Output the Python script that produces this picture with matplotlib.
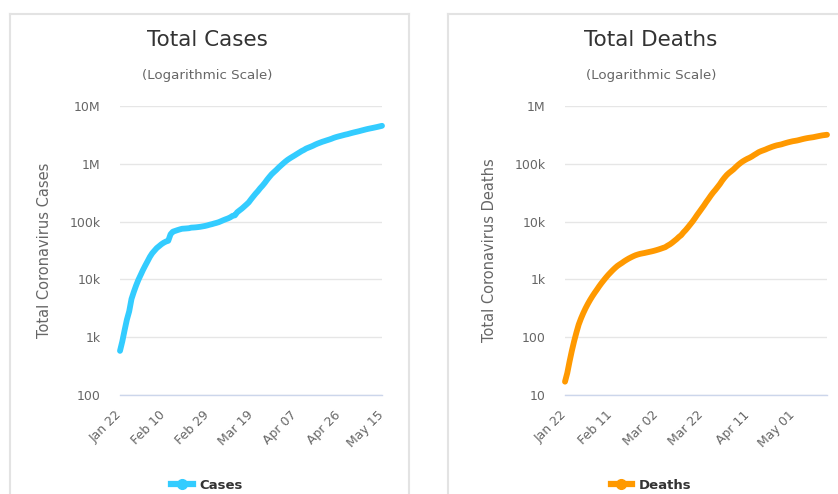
import matplotlib
matplotlib.use("Agg")
import matplotlib.pyplot as plt
from matplotlib.lines import Line2D
from matplotlib.ticker import FixedLocator, NullLocator

# total cases, daily from Jan 22 to May 15
cases = [
    580, 845, 1320, 2015, 2800, 4580, 6060, 7820, 9830, 11950,
    14550, 17390, 20630, 24550, 28280, 31440, 34880, 37550, 40550, 43100,
    45170, 46550, 60370, 66890, 69030, 71230, 73280, 75150, 75650, 76200,
    76840, 78600, 78990, 79580, 80410, 81390, 82750, 84120, 86010,
    88370, 90310, 92840, 95120, 97890, 101800, 105850, 109820, 113590, 118620,
    125880, 128350, 145210, 156100, 167450, 181570, 197100, 214820, 242570, 272210,
    304510, 336950, 378240, 418050, 467650, 529590, 593290, 660710, 720120, 782370,
    857490,
    932610, 1013160, 1095920, 1176060, 1249750, 1321480, 1396480, 1479800, 1565280, 1657530,
    1735650, 1834720, 1904840, 1976190, 2056050, 2152440, 2240190, 2317760, 2401380, 2472260,
    2549120, 2624000, 2708890, 2811190, 2896750, 2971480, 3041760, 3116400, 3193890, 3256850,
    3343780, 3427340, 3506730, 3583060, 3662690, 3755340, 3845720, 3938060, 4024010, 4101700,
    4177500, 4261750, 4347020, 4442160, 4542350,
]

# total deaths, daily from Jan 22 to May 16
deaths = [
    17, 24, 38, 58, 85, 120, 165, 210, 260, 315,
    375, 440, 510, 585, 665, 760, 860, 965, 1080, 1200,
    1320, 1450, 1580, 1710, 1820, 1930, 2060, 2180, 2300, 2410,
    2520, 2620, 2700, 2770, 2820, 2870, 2930, 2990, 3050, 3120,
    3200, 3290, 3390, 3500, 3610, 3830, 4030, 4300, 4630, 4980,
    5430, 5830, 6520, 7170, 7990, 8950, 10030, 11390, 13030, 14760,
    16760, 19010, 21800, 24730, 28200, 31810, 35360, 39700, 44660, 51180,
    57560, 63960, 69550, 74690, 80440, 87910, 95660, 102960, 109930, 116050,
    121940, 127170, 133680, 141930, 149810, 158720, 165250, 170860, 176680, 183930,
    190590, 197270, 203350, 208800, 212790, 217000, 223420, 229540, 235350, 240650,
    245770, 249480, 253710, 259470, 265720, 271580, 276740, 281280, 284930, 288660,
    294310, 299880, 305320, 310610, 314330, 318000,
]

cases_ticks = [0, 19, 38, 57, 76, 95, 114]
cases_tick_labels = ["Jan 22", "Feb 10", "Feb 29", "Mar 19", "Apr 07", "Apr 26", "May 15"]
deaths_ticks = [0, 20, 40, 60, 80, 100]
deaths_tick_labels = ["Jan 22", "Feb 11", "Mar 02", "Mar 22", "Apr 11", "May 01"]

cases_y = [1e2, 1e3, 1e4, 1e5, 1e6, 1e7]
cases_y_labels = ["100", "1k", "10k", "100k", "1M", "10M"]
deaths_y = [1e1, 1e2, 1e3, 1e4, 1e5, 1e6]
deaths_y_labels = ["10", "100", "1k", "10k", "100k", "1M"]

W, H = 838, 494
fig = plt.figure(figsize=(W / 100, H / 100), dpi=100)
plt.rcParams['font.family'] = ['DejaVu Sans']


def px(x, y):
    return x / W, 1 - y / H


def panel(left, center, label_x, title, values, color, ticks, tick_labels, yt, ytl,
          ylabel, name):
    ax = fig.add_axes([left / W, 1 - 395 / H, 262 / W, 289 / H])
    x = list(range(len(values)))
    ax.plot(x, values, color=color, lw=4.2, solid_capstyle='round',
            solid_joinstyle='round', clip_on=False, zorder=3)
    ax.set_yscale('log')
    ax.set_ylim(yt[0], yt[-1])
    ax.set_xlim(0, len(values) - 1)
    ax.yaxis.set_major_locator(FixedLocator(yt))
    ax.yaxis.set_minor_locator(NullLocator())
    ax.set_yticklabels(ytl)
    ax.set_xticks(ticks)
    ax.set_xticklabels(tick_labels, rotation=45, ha='right', va='center',
                       rotation_mode='anchor')
    ax.tick_params(length=0, labelsize=9, labelcolor='#666666')
    ax.tick_params(axis='y', pad=14)
    ax.tick_params(axis='x', pad=13)
    ax.grid(axis='y', color='#e6e6e6', lw=1)
    ax.set_axisbelow(True)
    for s in ['top', 'right', 'left']:
        ax.spines[s].set_visible(False)
    ax.spines['bottom'].set_color('#ccd6eb')
    ax.spines['bottom'].set_linewidth(1)
    ax.set_ylabel(ylabel, fontsize=10.5, color='#666666')
    ax.yaxis.set_label_coords((label_x - left) / 262, 0.5)

    fig.text(*px(center, 40), title, ha='center', va='center', fontsize=15.5, color='#333333')
    fig.text(*px(center, 76), "(Logarithmic Scale)", ha='center', va='center',
             fontsize=9.6, color='#666666')
    h = Line2D([], [], color=color, lw=4.5, marker='o', ms=7)
    ax.legend(handles=[h], labels=[name], loc='center', bbox_to_anchor=px(center, 485),
              bbox_transform=fig.transFigure, frameon=False, handlelength=1.6,
              handletextpad=0.5, prop={'weight': 'bold', 'size': 9.5},
              labelcolor='#333333')
    return ax


panel(120, 207, 52, "Total Cases", cases, '#33ccff', cases_ticks, cases_tick_labels,
      cases_y, cases_y_labels, "Total Coronavirus Cases", "Cases")
panel(565, 651, 497, "Total Deaths", deaths, '#ff9900', deaths_ticks, deaths_tick_labels,
      deaths_y, deaths_y_labels, "Total Coronavirus Deaths", "Deaths")

# panel borders
border = dict(color='#e3e3e3', lw=1.5, transform=fig.transFigure)
fig.add_artist(Line2D([10 / W, 10 / W], [0, 1 - 14 / H], **border))
fig.add_artist(Line2D([409 / W, 409 / W], [0, 1 - 14 / H], **border))
fig.add_artist(Line2D([10 / W, 409 / W], [1 - 14 / H, 1 - 14 / H], **border))
fig.add_artist(Line2D([448 / W, 448 / W], [0, 1 - 14 / H], **border))
fig.add_artist(Line2D([448 / W, 1], [1 - 14 / H, 1 - 14 / H], **border))

fig.savefig("out.png", dpi=100)
